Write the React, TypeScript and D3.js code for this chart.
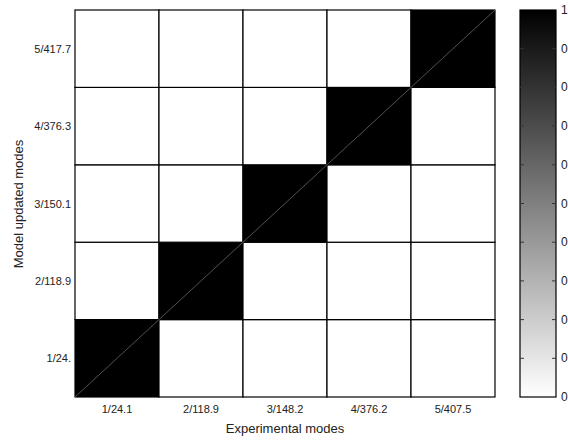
import React, { useEffect, useRef } from 'react';
import * as d3 from 'd3';

// experimental modes (columns) and model updated modes (rows), index/frequency
const expModes = ['1/24.1', '2/118.9', '3/148.2', '4/376.2', '5/407.5'];
const modelModes = ['1/24.', '2/118.9', '3/150.1', '4/376.3', '5/417.7'];

// MAC values, row = model mode, col = experimental mode
const macRow1 = [1.0, 0.0, 0.0, 0.0, 0.0];
const macRow2 = [0.0, 1.0, 0.0, 0.0, 0.0];
const macRow3 = [0.0, 0.0, 1.0, 0.0, 0.0];
const macRow4 = [0.0, 0.0, 0.0, 1.0, 0.0];
const macRow5 = [0.0, 0.0, 0.0, 0.0, 1.0];
const macRows = [macRow1, macRow2, macRow3, macRow4, macRow5];

const cbTicks = [0, 0.1, 0.2, 0.3, 0.4, 0.5, 0.6, 0.7, 0.8, 0.9, 1];

const W = 568;
const H = 441;
const font = 'Arial, "Liberation Sans", sans-serif';

const App = () => {
  const ref = useRef<SVGSVGElement>(null);

  useEffect(() => {
    const svg = d3.select(ref.current);
    svg.selectAll('*').remove();

    const x = d3.scaleBand().domain(expModes).range([75, 495]);
    const y = d3.scaleBand().domain([...modelModes].reverse()).range([10, 397]);
    const color = d3.scaleLinear<string>().domain([0, 1]).range(['#ffffff', '#000000']);

    const cells: { r: number; c: number; v: number }[] = [];
    macRows.forEach((row, r) => row.forEach((v, c) => cells.push({ r, c, v })));

    // y tick labels (drawn first so cells can cover overflow)
    svg.append('g').selectAll('text').data(modelModes).enter().append('text')
      .attr('x', 71)
      .attr('y', (d) => (y(d) as number) + y.bandwidth() / 2 + 4)
      .attr('text-anchor', 'end')
      .attr('font-family', font).attr('font-size', 11).attr('fill', '#222')
      .text((d) => d);

    const g = svg.append('g');
    g.selectAll('rect').data(cells).enter().append('rect')
      .attr('x', (d) => x(expModes[d.c]) as number)
      .attr('y', (d) => y(modelModes[d.r]) as number)
      .attr('width', x.bandwidth())
      .attr('height', y.bandwidth())
      .attr('fill', (d) => color(d.v))
      .attr('stroke', '#000')
      .attr('stroke-width', 1.2);

    // thin diagonal through the high cells
    g.selectAll('line').data(cells.filter((d) => d.v > 0.5)).enter().append('line')
      .attr('x1', (d) => x(expModes[d.c]) as number)
      .attr('y1', (d) => (y(modelModes[d.r]) as number) + y.bandwidth())
      .attr('x2', (d) => (x(expModes[d.c]) as number) + x.bandwidth())
      .attr('y2', (d) => y(modelModes[d.r]) as number)
      .attr('stroke', '#888')
      .attr('stroke-width', 0.6);

    // x tick labels
    svg.append('g').selectAll('text').data(expModes).enter().append('text')
      .attr('x', (d) => (x(d) as number) + x.bandwidth() / 2)
      .attr('y', 413)
      .attr('text-anchor', 'middle')
      .attr('font-family', font).attr('font-size', 11).attr('fill', '#222')
      .text((d) => d);

    svg.append('text')
      .attr('x', 285).attr('y', 433)
      .attr('text-anchor', 'middle')
      .attr('font-family', font).attr('font-size', 13).attr('fill', '#222')
      .text('Experimental modes');

    svg.append('text')
      .attr('transform', 'translate(23,204) rotate(-90)')
      .attr('text-anchor', 'middle')
      .attr('font-family', font).attr('font-size', 13).attr('fill', '#222')
      .text('Model updated modes');

    // colorbar
    const cb = d3.scaleLinear().domain([0, 1]).range([397, 10]);
    const defs = svg.append('defs');
    const grad = defs.append('linearGradient')
      .attr('id', 'cbgrad')
      .attr('x1', 0).attr('y1', 1).attr('x2', 0).attr('y2', 0);
    d3.range(0, 1.0001, 0.1).forEach((t) => {
      grad.append('stop').attr('offset', t).attr('stop-color', color(t));
    });
    const cbx0 = 520;
    const cbx1 = 556;
    svg.append('rect')
      .attr('x', cbx0).attr('y', cb(1))
      .attr('width', cbx1 - cbx0).attr('height', cb(0) - cb(1))
      .attr('fill', 'url(#cbgrad)')
      .attr('stroke', '#000').attr('stroke-width', 1.2);

    const tg = svg.append('g');
    tg.selectAll('line.l').data(cbTicks.slice(1, -1)).enter().append('line')
      .attr('x1', cbx0).attr('x2', cbx0 + 4)
      .attr('y1', (d) => cb(d)).attr('y2', (d) => cb(d))
      .attr('stroke', '#333').attr('stroke-width', 1);
    tg.selectAll('line.r').data(cbTicks.slice(1, -1)).enter().append('line')
      .attr('x1', cbx1 - 4).attr('x2', cbx1)
      .attr('y1', (d) => cb(d)).attr('y2', (d) => cb(d))
      .attr('stroke', '#333').attr('stroke-width', 1);
    tg.selectAll('text').data(cbTicks).enter().append('text')
      .attr('x', 561)
      .attr('y', (d) => cb(d) + 4)
      .attr('font-family', font).attr('font-size', 12).attr('fill', '#222')
      .text((d) => (d === 0 || d === 1 ? String(d) : d.toFixed(1)));
  }, []);

  return (
    <div style={{ position: 'absolute', left: 0, top: 0 }}>
      <svg ref={ref} width={W} height={H} style={{ display: 'block', background: '#fff', overflow: 'hidden' }} />
    </div>
  );
};

export default App;
